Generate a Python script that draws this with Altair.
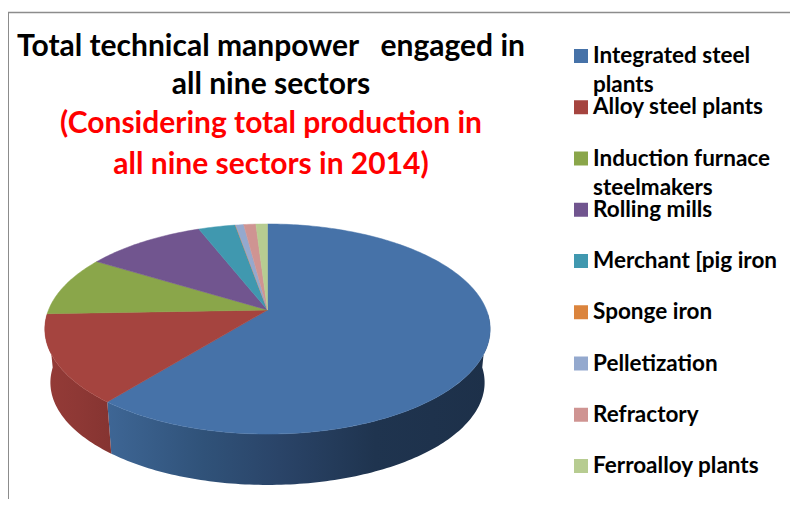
import math
import altair as alt
import pandas as pd

sectors = ["Integrated steel plants", "Alloy steel plants", "Induction furnace steelmakers",
           "Rolling mills", "Merchant [pig iron", "Sponge iron", "Pelletization", "Refractory",
           "Ferroalloy plants"]
first_lines = ["Integrated steel", "Alloy steel plants", "Induction furnace", "Rolling mills",
               "Merchant [pig iron", "Sponge iron", "Pelletization", "Refractory", "Ferroalloy plants"]
second_lines = {"Integrated steel plants": "plants", "Induction furnace steelmakers": "steelmakers"}
shares = [60.8, 13.6, 9.3, 10.3, 3.2, 0.02, 0.7, 1.05, 1.0]
colors = ["#4672A8", "#A5443F", "#8AA64A", "#71558F", "#4098AF", "#DB843D", "#94A9CE", "#CF9492", "#B7CC91"]
title_lines = ["Total technical manpower\u00a0\u00a0 engaged in", "all nine sectors"]
subtitle_lines = ["(Considering total production in", "all nine sectors in 2014)"]

FONT = "Lato"
W, H = 782, 491
CX, CY, A, B, K = 259.5, 302.0, 219.0, 101.6, 0.181
DEPTH, SHRINK = 54.0, 0.975


def pt(deg, bottom=False):
    t = math.radians(deg)
    x, y = math.sin(t), math.cos(t)
    w = 1 + K * y
    s = SHRINK if bottom else 1.0
    return [CX + s * A * x / w, CY + (DEPTH if bottom else 0) - s * B * y / w]


def arc(a0, a1):
    n = max(2, int(abs(a1 - a0)) + 2)
    return [a0 + (a1 - a0) * i / (n - 1) for i in range(n)]


def feature(ring, sector):
    return {"type": "Feature", "properties": {"sector": sector},
            "geometry": {"type": "Polygon", "coordinates": [ring + [ring[0]]]}}


total = sum(shares)
bounds = [0.0]
for v in shares:
    bounds.append(bounds[-1] + 360 * v / total)

top = [feature([[CX, CY]] + [pt(d) for d in arc(bounds[i], bounds[i + 1])], s) for i, s in enumerate(sectors)]


def wall(a0, a1, name):
    ring = [pt(d) for d in arc(a0, a1)] + [pt(d, True) for d in arc(a1, a0)]
    return [feature(ring, name)]


proj = dict(type="identity", scale=1, translate=[0, 0])
grad = lambda stops: alt.Gradient(gradient="linear", x1=0, x2=1, y1=0, y2=0,
                                  stops=[alt.GradientStop(offset=o, color=c) for o, c in stops])

blue_wall = alt.Chart(alt.Data(values=wall(92, bounds[1], sectors[0]))).mark_geoshape(
    fill=grad([(0, "#3E6695"), (0.25, "#305279"), (0.45, "#2A4468"), (0.7, "#1F344F"), (1, "#1D3049")]),
    strokeWidth=0).project(**proj)
red_wall = alt.Chart(alt.Data(values=wall(bounds[1], bounds[2], sectors[1]))).mark_geoshape(
    fill=grad([(0, "#943B37"), (0.5, "#8E3835"), (1, "#853431")]),
    strokeWidth=0).project(**proj)

color = alt.Color("sector:N", scale=alt.Scale(domain=sectors, range=colors), legend=None)
color_p = alt.Color("properties.sector:N", scale=alt.Scale(domain=sectors, range=colors), legend=None)
stroke_p = alt.Stroke("properties.sector:N", scale=alt.Scale(domain=sectors, range=colors), legend=None)
tops = alt.Chart(alt.Data(values=top)).mark_geoshape(strokeWidth=0.5).encode(color=color_p, stroke=stroke_p).project(**proj)

leg = pd.DataFrame({"sector": sectors, "line1": first_lines,
                    "line2": [second_lines.get(s, "") for s in sectors]})
y_scale = alt.Y("sector:N", sort=sectors, axis=None,
                scale=alt.Scale(domain=sectors, range=[48, 458], type="point", padding=0))
swatches = alt.Chart(leg).mark_square(size=196, opacity=1).encode(x=alt.value(573), y=y_scale, color=color)
labels1 = alt.Chart(leg).mark_text(align="left", baseline="middle", font=FONT, fontWeight="bold",
                                   fontSize=22.5, color="#000000").encode(x=alt.value(585), y=y_scale, text="line1:N")
labels2 = alt.Chart(leg).mark_text(align="left", baseline="middle", font=FONT, fontWeight="bold",
                                   fontSize=22.5, color="#000000", dy=29).encode(x=alt.value(585), y=y_scale, text="line2:N")

frame_top = alt.Chart(pd.DataFrame({"a": [0]})).mark_rule(color="#8C8C8C", strokeWidth=1.5).encode(
    x=alt.value(0), x2=alt.value(W), y=alt.value(4.5))
frame_left = alt.Chart(pd.DataFrame({"a": [0]})).mark_rule(color="#8C8C8C", strokeWidth=2).encode(
    x=alt.value(0), y=alt.value(4), y2=alt.value(H))

chart = alt.layer(frame_top, frame_left, blue_wall, red_wall, tops, swatches, labels1, labels2).properties(
    width=W, height=H, padding=0, autosize=alt.AutoSizeParams(type="none"),
    title=alt.TitleParams(text=title_lines, subtitle=subtitle_lines, font=FONT, fontWeight="bold", fontSize=30,
                          lineHeight=38, color="#000000", subtitleFont=FONT, subtitleFontWeight="bold",
                          subtitleFontSize=30, subtitleLineHeight=41, subtitleColor="#FF0000", subtitlePadding=9,
                          anchor="middle", align="center", frame="group", dx=-128, offset=-172),
).resolve_scale(color="shared").configure_view(stroke=None)

chart.save("out.html", embed_options={"renderer": "svg", "actions": False})
